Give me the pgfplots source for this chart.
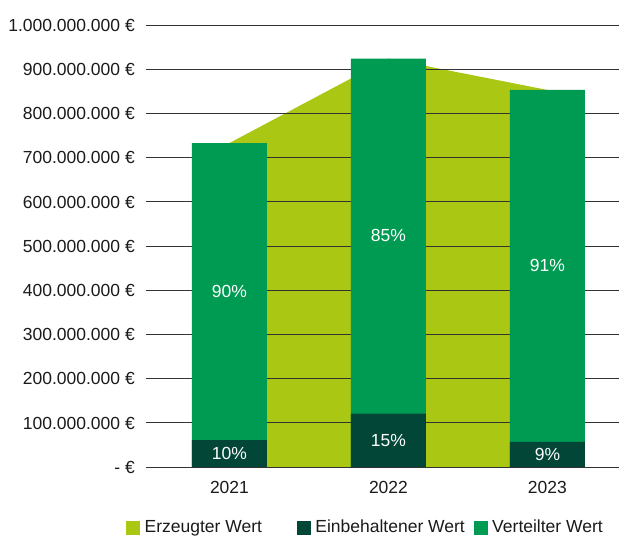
\documentclass[border=0pt]{standalone}
\usepackage{fontspec}
\setmainfont{Liberation Sans}
\usepackage{pgfplots}
\pgfplotsset{compat=1.18}
\definecolor{limeA}{RGB}{169,199,19}
\definecolor{greenV}{RGB}{0,155,82}
\definecolor{darkE}{RGB}{2,70,56}
\definecolor{txt}{RGB}{26,26,26}
\newcommand{\fs}{\fontsize{17.5bp}{20bp}\selectfont}
\begin{document}
\fs
\begin{tikzpicture}
\begin{axis}[
  set layers,
  at={(146bp,69bp)}, anchor=south west,
  scale only axis, width=473bp, height=442bp,
  xmin=-0.525, xmax=2.45, ymin=0, ymax=1000,
  axis line style={draw=none},
  major tick length=0pt,
  ymajorgrids, grid style={black!80, line width=0.9bp},
  ytick={0,100,...,1000},
  yticklabels={- €,100.000.000 €,200.000.000 €,300.000.000 €,400.000.000 €,500.000.000 €,600.000.000 €,700.000.000 €,800.000.000 €,900.000.000 €,1.000.000.000 €},
  xtick={0,1,2}, xticklabels={2021,2022,2023},
  tick label style={font=\fs, text=txt, inner sep=0pt, text height=12.5bp, text depth=0bp},
  yticklabel style={anchor=east},
  yticklabel shift=11bp,
  xticklabel style={anchor=north},
  xticklabel shift=14bp,
  clip=false,
  legend columns=3,
  legend style={at={(axis description cs:0,0)}, anchor=north west, xshift=-20bp, yshift=-53bp,
    draw=none, fill=none, inner sep=0pt, font=\fs, text=txt,
    nodes={inner sep=0pt, text height=12.5bp, text depth=3bp},
    /tikz/every odd column/.style={column sep=5bp},
    /tikz/column 2/.style={column sep=35bp},
    /tikz/column 4/.style={column sep=9bp}},
]
\addplot[fill=limeA, draw=none, on layer=axis background, forget plot] coordinates {(0,733) (1,924) (2,853)} \closedcycle;
\addplot[ybar, bar width=75bp, bar shift=0pt, fill=greenV, draw=none, forget plot] coordinates {(0,733) (1,924) (2,853)};
\addplot[ybar, bar width=75bp, bar shift=0pt, fill=darkE, draw=none, forget plot] coordinates {(0,61) (1,121) (2,57)};
\addlegendimage{legend image code/.code={\fill[limeA] (0bp,-6.5bp) rectangle (13bp,6.5bp);}}
\addlegendentry{Erzeugter Wert}
\addlegendimage{legend image code/.code={\fill[darkE] (0bp,-6.5bp) rectangle (13bp,6.5bp);}}
\addlegendentry{Einbehaltener Wert}
\addlegendimage{legend image code/.code={\fill[greenV] (0bp,-6.5bp) rectangle (13bp,6.5bp);}}
\addlegendentry{Verteilter Wert}
\node[white, font=\fs] at (axis cs:0,397) {90\%};
\node[white, font=\fs] at (axis cs:1,523) {85\%};
\node[white, font=\fs] at (axis cs:2,455) {91\%};
\node[white, font=\fs] at (axis cs:0,31) {10\%};
\node[white, font=\fs] at (axis cs:1,61) {15\%};
\node[white, font=\fs] at (axis cs:2,28) {9\%};
\end{axis}
\pgfresetboundingbox
\path[use as bounding box] (0,0) rectangle (619bp,536bp);
\end{tikzpicture}
\end{document}
